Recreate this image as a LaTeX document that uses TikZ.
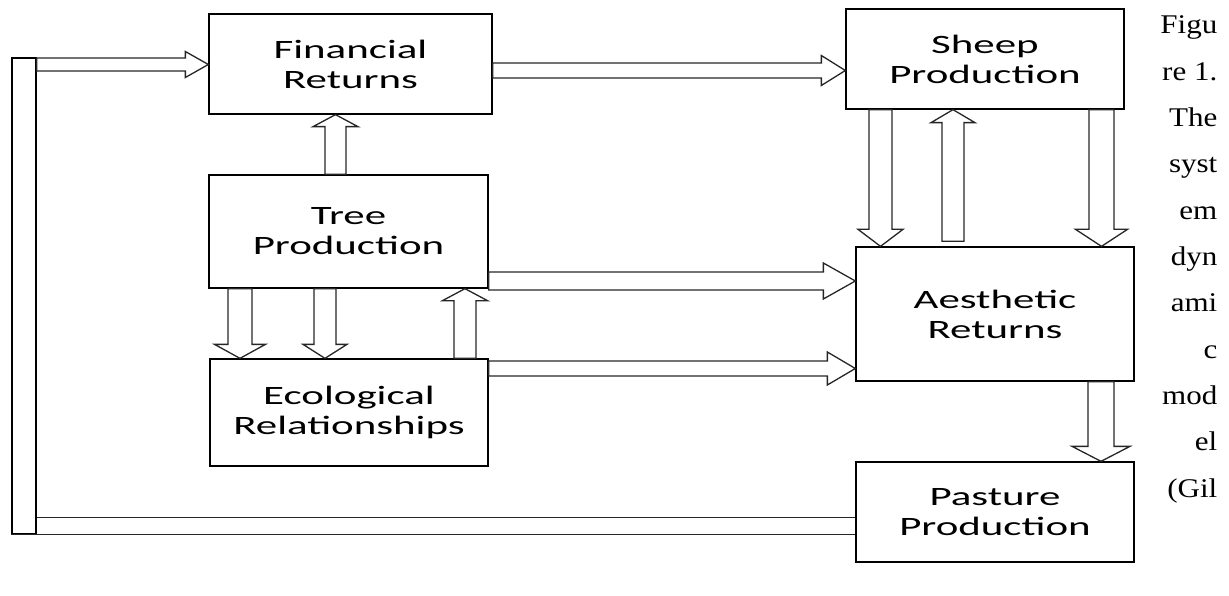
\documentclass[tikz,border=0pt]{standalone}
\usepackage{fontspec}
\usetikzlibrary{calc}
\newfontfamily\boxfont[FakeStretch=1.62]{Carlito}
\newfontfamily\capfont[FakeStretch=1.15]{Liberation Serif}
\newcommand{\blockarrow}[5]{%
  \coordinate (ba) at ($(#2)!#5!(#1)$);
  \draw[flow] ($(#1)!#3!90:(#2)$) -- ($(ba)!#3!-90:(#1)$) -- ($(ba)!#4!-90:(#1)$) -- (#2)
    -- ($(ba)!#4!90:(#1)$) -- ($(ba)!#3!90:(#1)$) -- ($(#1)!#3!-90:(#2)$) -- cycle;}
\begin{document}
\begin{tikzpicture}[x=1pt,y=-1pt,line width=1.3pt,
    block/.style={draw,rectangle,inner sep=0pt,align=center,font=\boxfont\fontsize{26.5}{30}\selectfont},
    flow/.style={draw=black!85,line width=1.3pt,line join=miter},
    capword/.style={anchor=base east,inner sep=0pt,font=\capfont\fontsize{27}{27}\selectfont}]
  \useasboundingbox (0,0) rectangle (1229,596);
  \node[block,minimum width=283pt,minimum height=100pt] (fin) at (350.5,64) {Financial\\Returns};
  \node[block,minimum width=279pt,minimum height=113pt] (tree) at (348.5,231.5) {Tree\\Production};
  \node[block,minimum width=278pt,minimum height=107pt] (eco) at (349,412.5) {Ecological\\Relationships};
  \node[block,minimum width=278pt,minimum height=100pt] (sheep) at (985,59) {Sheep\\Production};
  \node[block,minimum width=278pt,minimum height=134pt] (aes) at (995,314) {Aesthetic\\Returns};
  \node[block,minimum width=278pt,minimum height=100pt] (past) at (995,512) {Pasture\\Production};
  \node[draw,inner sep=0pt,minimum width=24pt,minimum height=476pt] (bar) at (24,296) {};
  % feedback from pasture
  \coordinate (link) at ($(past.west)+(0,5.5)$);
  \draw[flow] (bar.south west) -- (past.west |- bar.south);
  \draw[flow] (bar.east |- link) -- (link);
  % left column
  \coordinate (bf) at ($(fin.west)+(0,0.5)$);
  \coordinate (bs) at (bar.east |- bf);
  \blockarrow{bs}{bf}{6.5pt}{13pt}{23pt}
  \coordinate (tf) at ($(tree.north)+(-13,0)$);
  \coordinate (tf2) at (fin.south -| tf);
  \blockarrow{tf}{tf2}{10.5pt}{22.5pt}{12pt}
  \coordinate (te1) at ($(tree.south)+(-108.5,0)$);
  \coordinate (te1b) at (eco.north -| te1);
  \blockarrow{te1}{te1b}{12pt}{25.5pt}{14pt}
  \coordinate (te2) at ($(tree.south)+(-23.5,0)$);
  \coordinate (te2b) at (eco.north -| te2);
  \blockarrow{te2}{te2b}{11pt}{22pt}{14pt}
  \coordinate (et) at ($(eco.north)+(116,0)$);
  \coordinate (etb) at (tree.south -| et);
  \blockarrow{et}{etb}{11pt}{22.5pt}{12pt}
  % towards the right column
  \coordinate (fs) at ($(fin.east)+(0,6.5)$);
  \coordinate (fsb) at (sheep.west |- fs);
  \blockarrow{fs}{fsb}{7.5pt}{15pt}{24pt}
  \coordinate (ta) at ($(tree.east)+(0,49.5)$);
  \coordinate (tab) at (aes.west |- ta);
  \blockarrow{ta}{tab}{9pt}{18pt}{32pt}
  \coordinate (ea) at ($(eco.east)+(0,-44)$);
  \coordinate (eab) at (aes.west |- ea);
  \blockarrow{ea}{eab}{7.5pt}{16.5pt}{28pt}
  % right column
  \coordinate (sa1) at ($(sheep.south)+(-104.5,0)$);
  \coordinate (sa1b) at (aes.north -| sa1);
  \blockarrow{sa1}{sa1b}{11.5pt}{22.5pt}{17pt}
  \coordinate (as) at ($(aes.north)+(-42,-5)$);
  \coordinate (asb) at (sheep.south -| as);
  \blockarrow{as}{asb}{11pt}{22pt}{13pt}
  \coordinate (sa2) at ($(sheep.south)+(116.5,0)$);
  \coordinate (sa2b) at (aes.north -| sa2);
  \blockarrow{sa2}{sa2b}{12.5pt}{26pt}{17pt}
  \coordinate (ap) at ($(aes.south)+(106,0)$);
  \coordinate (apb) at (past.north -| ap);
  \blockarrow{ap}{apb}{13pt}{29pt}{15pt}
  % caption
  \foreach \w [count=\i] in {Figu,re\ 1.,The,syst,em,dyn,ami,c,mod,el,{(Gil}}
    \node[capword] (cap\i) at (1218,{34+46.3*(\i-1)}) {\w};
\end{tikzpicture}
\end{document}
